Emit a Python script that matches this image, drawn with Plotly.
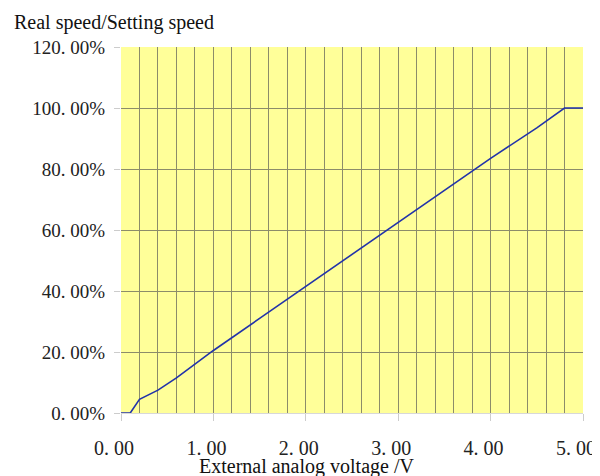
import plotly.graph_objects as go

voltage = [0.0, 0.1, 0.2, 0.4, 0.6, 1.0, 1.5, 2.0, 2.5, 3.0, 3.5, 4.0, 4.5, 4.8, 5.0]
speed_pct = [0.0, 0.0, 4.5, 7.5, 11.5, 20.5, 31.0, 41.5, 52.0, 62.5, 73.0, 83.5, 93.5, 100.0, 100.0]

x_ticks = [0, 1, 2, 3, 4, 5]
x_tick_text = ["0. 00", "1. 00", "2. 00", "3. 00", "4. 00", "5. 00"]
y_ticks = [0, 20, 40, 60, 80, 100, 120]
y_tick_text = ["0. 00%", "20. 00%", "40. 00%", "60. 00%", "80. 00%", "100. 00%", "120. 00%"]

FONT = "Liberation Serif, Times New Roman, serif"
GRID = "#8c8c6a"

# page body has an 8px offset; plot area targeted at px x 121..583, y 47..413
OFF = 8
PL, PR, PT, PB = 121, 583, 47, 413
W, H = 600 - OFF, 476 - OFF
PW, PH = PR - PL, PB - PT

fig = go.Figure()
fig.add_trace(go.Scatter(x=voltage, y=speed_pct, mode="lines",
                         line=dict(color="#2233aa", width=1.6),
                         showlegend=False, hoverinfo="skip"))

fig.update_layout(
    width=W, height=H,
    margin=dict(l=PL - OFF, r=W + OFF - PR, t=PT - OFF, b=H + OFF - PB),
    paper_bgcolor="white",
    plot_bgcolor="#ffff99",
    font=dict(family=FONT, size=20, color="#222222"),
    xaxis=dict(range=[0, 5], tickvals=x_ticks, ticktext=x_tick_text,
               showgrid=True, gridcolor=GRID, gridwidth=1,
               minor=dict(dtick=0.2, showgrid=True, gridcolor=GRID, gridwidth=1),
               ticks="outside", ticklen=7, tickcolor="#cccccc",
               showline=True, linecolor="#d8d8d8", linewidth=1,
               zeroline=False, ticklabelstandoff=10, ticklabelshift=-7,
               ticklabeloverflow="allow", automargin=False,
               tickfont=dict(family=FONT, size=20)),
    yaxis=dict(range=[0, 120], tickvals=y_ticks, ticktext=y_tick_text,
               showgrid=True, gridcolor=GRID, gridwidth=1,
               ticks="outside", ticklen=6, tickcolor="#cccccc",
               showline=False, zeroline=False, ticklabelstandoff=5,
               automargin=False,
               tickfont=dict(family=FONT, size=19)),
    annotations=[
        dict(text="Real speed/Setting speed", xref="paper", yref="paper",
             x=(12 - PL) / PW, y=1 + (PT - 22) / PH, xanchor="left", yanchor="middle",
             showarrow=False, font=dict(family=FONT, size=20, color="#111111")),
        dict(text="External analog voltage /V", xref="paper", yref="paper",
             x=(306 - PL) / PW, y=(PB - 466) / PH, xanchor="center", yanchor="middle",
             showarrow=False, font=dict(family=FONT, size=20, color="#111111")),
    ],
)

fig.write_html("out.html")
